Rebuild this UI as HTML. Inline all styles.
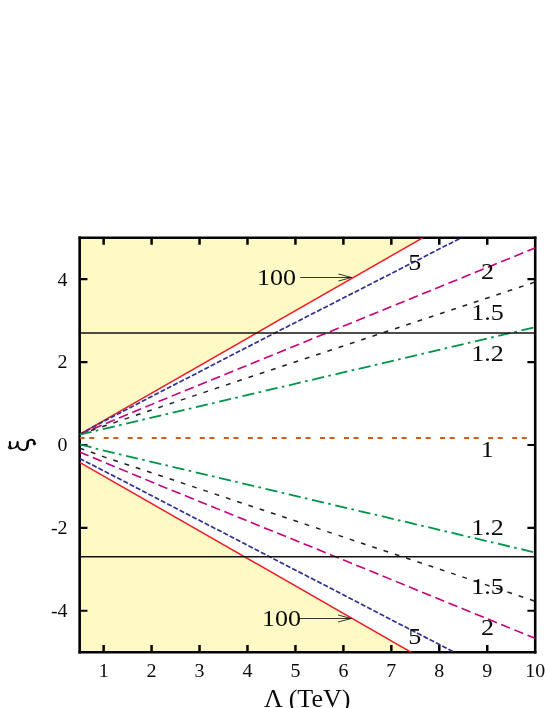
<!DOCTYPE html>
<html><head><meta charset="utf-8"><title>plot</title>
<style>
html,body{margin:0;padding:0;background:#fff;}
svg{display:block;will-change:transform;}
text{font-family:"Liberation Serif",serif;fill:#0a0a0a;}
</style></head><body>
<svg width="545" height="708" viewBox="0 0 545 708">
<rect x="0" y="0" width="545" height="708" fill="#ffffff"/>
<polygon points="79.65,237.75 422.8,237.75 79.65,434.4" fill="#fffac5"/>
<polygon points="79.65,462.3 411.05,652.2 79.65,652.2" fill="#fffac5"/>
<path d="M79.65 237.75H535.2M79.65 652.2H535.2" stroke="#000" stroke-width="2.4" fill="none" stroke-linecap="square"/>
<path d="M79.65 237.75V652.2M535.2 237.75V652.2" stroke="#000" stroke-width="2.6" fill="none" stroke-linecap="square"/>
<path d="M103.63 237.75v7.1M103.63 652.2v-7.1M151.58 237.75v7.1M151.58 652.2v-7.1M199.53 237.75v7.1M199.53 652.2v-7.1M247.48 237.75v7.1M247.48 652.2v-7.1M295.44 237.75v7.1M295.44 652.2v-7.1M343.39 237.75v7.1M343.39 652.2v-7.1M391.34 237.75v7.1M391.34 652.2v-7.1M439.29 237.75v7.1M439.29 652.2v-7.1M487.25 237.75v7.1M487.25 652.2v-7.1" stroke="#000" stroke-width="2.5" fill="none"/>
<path d="M79.65 610.76h7.8M535.20 610.76h-7.8M79.65 527.87h7.8M535.20 527.87h-7.8M79.65 444.98h7.8M535.20 444.98h-7.8M79.65 362.09h7.8M535.20 362.09h-7.8M79.65 279.19h7.8M535.20 279.19h-7.8" stroke="#000" stroke-width="2.2" fill="none"/>
<defs><clipPath id="c"><rect x="79.65" y="237.75" width="455.55" height="414.45000000000005"/></clipPath></defs>
<g clip-path="url(#c)" fill="none">
<polyline points="79.65,434.40 439.96,227.92" stroke="#ed1c24" stroke-width="1.5"/>
<polyline points="79.65,434.40 110.00,418.00 170.00,387.00 265.00,338.00 471.12,232.74" stroke="#2e3192" stroke-width="1.7" stroke-dasharray="5.0 2.038"/>
<polyline points="79.65,434.40 170.00,396.80 300.00,343.80 546.96,243.11" stroke="#c4007a" stroke-width="1.6" stroke-dasharray="9.6 4.633"/>
<polyline points="79.65,434.40 170.00,403.75 553.46,275.91" stroke="#231f20" stroke-width="1.5" stroke-dasharray="4.8 7.077"/>
<polyline points="79.65,434.60 557.98,321.83" stroke="#00934a" stroke-width="1.8" stroke-dasharray="12.2 4.4 2.6 4.69"/>
<polyline points="79.65,444.35 88.00,446.30 97.00,448.90 104.00,450.62 556.76,557.59" stroke="#00934a" stroke-width="1.8" stroke-dasharray="12.2 4.4 2.6 4.69"/>
<polyline points="79.65,448.10 93.00,452.80 104.00,456.85 556.76,608.47" stroke="#231f20" stroke-width="1.5" stroke-dasharray="4.8 7.077"/>
<polyline points="79.65,452.00 160.00,485.50 310.00,546.30 546.46,643.00" stroke="#c4007a" stroke-width="1.6" stroke-dasharray="9.6 4.633"/>
<polyline points="79.65,458.40 472.82,661.89" stroke="#2e3192" stroke-width="1.7" stroke-dasharray="5.0 2.038"/>
<polyline points="79.65,462.30 427.62,661.70" stroke="#ed1c24" stroke-width="1.5"/>
<line x1="79.65" y1="438.07" x2="535.20" y2="438.07" stroke="#c8601a" stroke-width="1.9" stroke-dasharray="5 4.6 5 9.43"/>
</g>
<line x1="79.65" y1="333.0" x2="535.20" y2="333.0" stroke="#141210" stroke-width="1.5"/>
<line x1="79.65" y1="556.75" x2="535.20" y2="556.75" stroke="#141210" stroke-width="1.3"/>
<text transform="translate(103.63,677.2) scale(1.095,1)" font-size="18.2" text-anchor="middle">1</text>
<text transform="translate(151.58,677.2) scale(1.095,1)" font-size="18.2" text-anchor="middle">2</text>
<text transform="translate(199.53,677.2) scale(1.095,1)" font-size="18.2" text-anchor="middle">3</text>
<text transform="translate(247.48,677.2) scale(1.095,1)" font-size="18.2" text-anchor="middle">4</text>
<text transform="translate(295.44,677.2) scale(1.095,1)" font-size="18.2" text-anchor="middle">5</text>
<text transform="translate(343.39,677.2) scale(1.095,1)" font-size="18.2" text-anchor="middle">6</text>
<text transform="translate(391.34,677.2) scale(1.095,1)" font-size="18.2" text-anchor="middle">7</text>
<text transform="translate(439.29,677.2) scale(1.095,1)" font-size="18.2" text-anchor="middle">8</text>
<text transform="translate(487.25,677.2) scale(1.095,1)" font-size="18.2" text-anchor="middle">9</text>
<text transform="translate(535.2,677.2) scale(1.095,1)" font-size="18.2" text-anchor="middle">10</text>
<text transform="translate(67.5,617.06) scale(1.095,1)" font-size="18.2" text-anchor="end">-4</text>
<text transform="translate(67.5,534.16) scale(1.095,1)" font-size="18.2" text-anchor="end">-2</text>
<text transform="translate(67.5,451.28) scale(1.095,1)" font-size="18.2" text-anchor="end">0</text>
<text transform="translate(67.5,368.39) scale(1.095,1)" font-size="18.2" text-anchor="end">2</text>
<text transform="translate(67.5,285.5) scale(1.095,1)" font-size="18.2" text-anchor="end">4</text>
<text transform="translate(307.2,706.6) scale(1.042,1)" font-size="25" text-anchor="middle">Λ (TeV)</text>
<g fill="none" stroke="#000" stroke-linecap="round" stroke-linejoin="round"><path d="M9.9 442.1C9.6 444 9.9 446.6 10.9 448.0" stroke-width="2.1"/><path d="M8.4 446.9C8.8 448.3 9.9 449.0 11.2 448.7C12.8 448.5 14.6 448.1 15.8 447.3" stroke-width="1.3"/><path d="M15.8 447.3C17.0 446.4 17.4 444.4 17.6 442.0" stroke-width="1.7"/><path d="M17.6 442.0C17.4 445.2 18.4 448.2 20.6 449.4C23 450.5 25.7 450 26.9 448" stroke-width="1.75"/><path d="M26.9 448C27.9 446 27.4 443.6 27.9 441.9" stroke-width="2.6"/><path d="M27.9 441.9C28.6 439.8 31.5 439.1 33.3 440.3C34.3 441.1 34.6 442.3 34.5 443.3" stroke-width="2.0"/><circle cx="34.35" cy="443.7" r="1.35" fill="#000" stroke-width="0.5"/></g>
<text transform="translate(414.8,269.5) scale(1.085,1)" font-size="24" text-anchor="middle">5</text>
<text transform="translate(487.5,278.5) scale(1.085,1)" font-size="24" text-anchor="middle">2</text>
<text transform="translate(487.5,319.9) scale(1.085,1)" font-size="24" text-anchor="middle">1.5</text>
<text transform="translate(487.5,361.3) scale(1.085,1)" font-size="24" text-anchor="middle">1.2</text>
<text transform="translate(487.3,456.9) scale(1.085,1)" font-size="24" text-anchor="middle">1</text>
<text transform="translate(487.5,535.3) scale(1.085,1)" font-size="24" text-anchor="middle">1.2</text>
<text transform="translate(487.5,593.6) scale(1.085,1)" font-size="24" text-anchor="middle">1.5</text>
<text transform="translate(487.5,635) scale(1.085,1)" font-size="24" text-anchor="middle">2</text>
<text transform="translate(414.8,643.6) scale(1.085,1)" font-size="24" text-anchor="middle">5</text>
<text transform="translate(276.5,285.1) scale(1.085,1)" font-size="24" text-anchor="middle">100</text>
<text transform="translate(281.5,626.1) scale(1.085,1)" font-size="24" text-anchor="middle">100</text>
<path d="M300.2 277.5H351.7M338.4 274.0L351.7 277.5L338.4 281.0" stroke="#1e1e1e" stroke-width="0.9" fill="none"/>
<path d="M299.8 618.5H351.3M338.0 615.0L351.3 618.5L338.0 622.0" stroke="#1e1e1e" stroke-width="0.9" fill="none"/>
</svg>
</body></html>
